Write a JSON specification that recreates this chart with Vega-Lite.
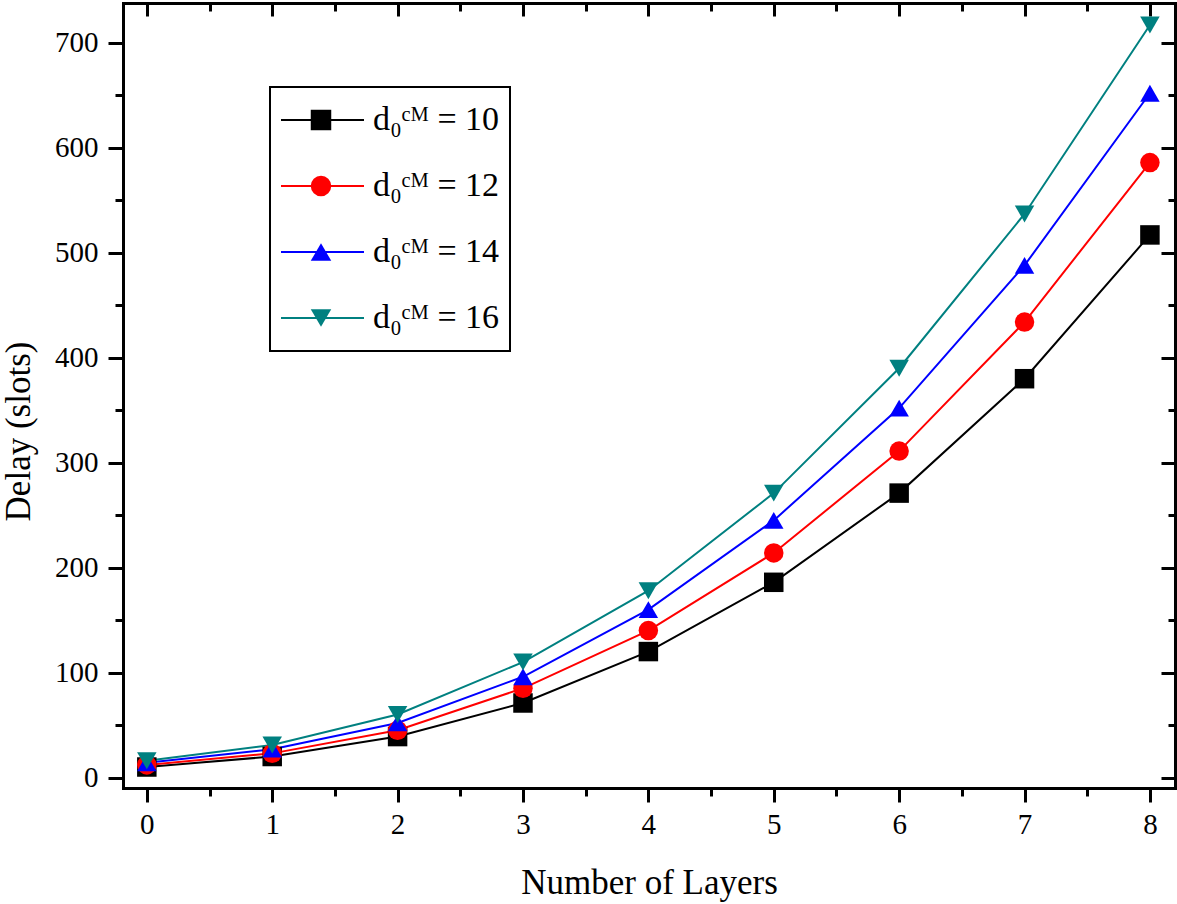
{
  "$schema": "https://vega.github.io/schema/vega-lite/v6.json",
  "width": 1052,
  "height": 785,
  "autosize": {"type": "none"},
  "padding": {"left": 123, "top": 3, "right": 2, "bottom": 116},
  "background": "white",
  "data": {
    "values": [
      {"layers": 0, "delay": 10, "d0": "10"},
      {"layers": 1, "delay": 20, "d0": "10"},
      {"layers": 2, "delay": 39, "d0": "10"},
      {"layers": 3, "delay": 71, "d0": "10"},
      {"layers": 4, "delay": 120, "d0": "10"},
      {"layers": 5, "delay": 186, "d0": "10"},
      {"layers": 6, "delay": 271, "d0": "10"},
      {"layers": 7, "delay": 380, "d0": "10"},
      {"layers": 8, "delay": 517, "d0": "10"},
      {"layers": 0, "delay": 12, "d0": "12"},
      {"layers": 1, "delay": 23, "d0": "12"},
      {"layers": 2, "delay": 45, "d0": "12"},
      {"layers": 3, "delay": 85, "d0": "12"},
      {"layers": 4, "delay": 140, "d0": "12"},
      {"layers": 5, "delay": 214, "d0": "12"},
      {"layers": 6, "delay": 311, "d0": "12"},
      {"layers": 7, "delay": 434, "d0": "12"},
      {"layers": 8, "delay": 586, "d0": "12"},
      {"layers": 0, "delay": 14, "d0": "14"},
      {"layers": 1, "delay": 27, "d0": "14"},
      {"layers": 2, "delay": 52, "d0": "14"},
      {"layers": 3, "delay": 96, "d0": "14"},
      {"layers": 4, "delay": 160, "d0": "14"},
      {"layers": 5, "delay": 245, "d0": "14"},
      {"layers": 6, "delay": 352, "d0": "14"},
      {"layers": 7, "delay": 488, "d0": "14"},
      {"layers": 8, "delay": 652, "d0": "14"},
      {"layers": 0, "delay": 16, "d0": "16"},
      {"layers": 1, "delay": 31, "d0": "16"},
      {"layers": 2, "delay": 60, "d0": "16"},
      {"layers": 3, "delay": 110, "d0": "16"},
      {"layers": 4, "delay": 178, "d0": "16"},
      {"layers": 5, "delay": 271, "d0": "16"},
      {"layers": 6, "delay": 390, "d0": "16"},
      {"layers": 7, "delay": 537, "d0": "16"},
      {"layers": 8, "delay": 717, "d0": "16"}
    ]
  },
  "resolve": {"axis": {"x": "independent", "y": "independent"}},
  "layer": [
    {
      "mark": {"type": "line", "strokeWidth": 2},
      "encoding": {
        "x": {
          "field": "layers", "type": "quantitative",
          "scale": {"domain": [-0.19, 8.2], "nice": false, "zero": false},
          "axis": {
            "orient": "bottom", "values": [0, 1, 2, 3, 4, 5, 6, 7, 8],
            "tickSize": 14, "labelPadding": 8, "labelFontSize": 29, "labelFlush": false,
            "title": "Number of Layers", "titleFontSize": 35, "titlePadding": 26
          }
        },
        "y": {
          "field": "delay", "type": "quantitative",
          "scale": {"domain": [-10, 738], "nice": false, "zero": false},
          "axis": {
            "orient": "left", "values": [0, 100, 200, 300, 400, 500, 600, 700],
            "tickSize": 15, "labelPadding": 10, "labelFontSize": 29,
            "title": "Delay (slots)", "titleFontSize": 35,
            "titleX": -87, "titleY": 428, "titleAngle": 270,
            "titleAlign": "center", "titleBaseline": "bottom"
          }
        },
        "color": {
          "field": "d0", "type": "nominal",
          "scale": {"domain": ["10", "12", "14", "16"], "range": ["#000000", "#ff0000", "#0000ff", "#008080"]},
          "legend": {
            "orient": "none", "legendX": 147, "legendY": 84, "title": null,
            "symbolType": "stroke", "symbolSize": 6889, "symbolStrokeWidth": 2,
            "clipHeight": 46, "rowPadding": 20, "padding": 10,
            "strokeColor": "black", "fillColor": "white",
            "labelFont": "Liberation Serif", "labelFontSize": 34, "labelColor": "black",
            "labelOffset": 8, "labelLimit": 400,
            "labelExpr": "'d\u2080\u1d9c\u1d39 = ' + datum.label"
          }
        }
      }
    },
    {
      "mark": {"type": "point", "filled": true, "opacity": 1, "strokeWidth": 0, "size": 380},
      "encoding": {
        "x": {
          "field": "layers", "type": "quantitative",
          "scale": {"domain": [-0.19, 8.2], "nice": false, "zero": false},
          "axis": {
            "orient": "top", "values": [0, 1, 2, 3, 4, 5, 6, 7, 8],
            "tickSize": -13, "labels": false, "title": null
          }
        },
        "y": {
          "field": "delay", "type": "quantitative",
          "scale": {"domain": [-10, 738], "nice": false, "zero": false},
          "axis": {
            "orient": "right", "values": [0, 100, 200, 300, 400, 500, 600, 700],
            "tickSize": -14, "labels": false, "title": null
          }
        },
        "fill": {
          "field": "d0", "type": "nominal",
          "scale": {"range": ["#000000", "#ff0000", "#0000ff", "#008080"]},
          "legend": {
            "orient": "none", "legendX": 187, "legendY": 94, "title": null,
            "clipHeight": 46, "rowPadding": 20, "padding": 0, "symbolSize": 420,
            "labelExpr": "''", "labelFontSize": 1, "labelOffset": 0
          }
        },
        "shape": {
          "field": "d0", "type": "nominal",
          "scale": {"range": ["square", "circle", "triangle-up", "triangle-down"]},
          "legend": {
            "orient": "none", "legendX": 187, "legendY": 94, "title": null,
            "clipHeight": 46, "rowPadding": 20, "padding": 0, "symbolSize": 420,
            "labelExpr": "''", "labelFontSize": 1, "labelOffset": 0
          }
        }
      }
    },
    {
      "mark": {"type": "point", "opacity": 0},
      "encoding": {
        "x": {
          "field": "layers", "type": "quantitative",
          "scale": {"domain": [-0.19, 8.2], "nice": false, "zero": false},
          "axis": {
            "orient": "bottom", "values": [0.5, 1.5, 2.5, 3.5, 4.5, 5.5, 6.5, 7.5],
            "tickSize": 8, "labels": false, "domain": false, "title": null
          }
        },
        "y": {
          "field": "delay", "type": "quantitative",
          "scale": {"domain": [-10, 738], "nice": false, "zero": false},
          "axis": {
            "orient": "left", "values": [50, 150, 250, 350, 450, 550, 650],
            "tickSize": 8, "labels": false, "domain": false, "title": null
          }
        }
      }
    },
    {
      "mark": {"type": "point", "opacity": 0},
      "encoding": {
        "x": {
          "field": "layers", "type": "quantitative",
          "scale": {"domain": [-0.19, 8.2], "nice": false, "zero": false},
          "axis": {
            "orient": "top", "values": [0.5, 1.5, 2.5, 3.5, 4.5, 5.5, 6.5, 7.5],
            "tickSize": -8, "labels": false, "domain": false, "title": null
          }
        },
        "y": {
          "field": "delay", "type": "quantitative",
          "scale": {"domain": [-10, 738], "nice": false, "zero": false},
          "axis": {
            "orient": "right", "values": [50, 150, 250, 350, 450, 550, 650],
            "tickSize": -7, "labels": false, "domain": false, "title": null
          }
        }
      }
    }
  ],
  "config": {
    "view": {"stroke": null},
    "legend": {"strokeWidth": 2},
    "axis": {
      "grid": false,
      "domainColor": "black", "domainWidth": 3, "domainCap": "square",
      "tickColor": "black", "tickWidth": 3,
      "labelColor": "black", "titleColor": "black",
      "labelFont": "Liberation Serif", "titleFont": "Liberation Serif",
      "titleFontWeight": "normal"
    }
  }
}
